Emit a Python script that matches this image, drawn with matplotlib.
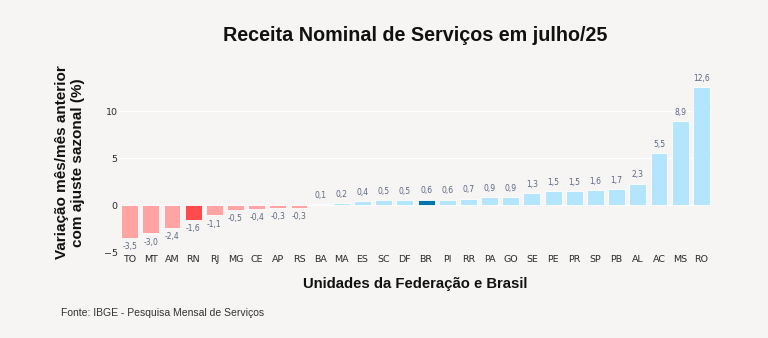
import matplotlib.pyplot as plt

# Variação mês/mês anterior com ajuste sazonal (%), julho/25
ufs = ['TO', 'MT', 'AM', 'RN', 'RJ', 'MG', 'CE', 'AP', 'RS', 'BA', 'MA', 'ES',
       'SC', 'DF', 'BR', 'PI', 'RR', 'PA', 'GO', 'SE', 'PE', 'PR', 'SP', 'PB',
       'AL', 'AC', 'MS', 'RO']
variacao = [-3.5, -3.0, -2.4, -1.6, -1.1, -0.5, -0.4, -0.3, -0.3, 0.1, 0.2, 0.4,
            0.5, 0.5, 0.6, 0.6, 0.7, 0.9, 0.9, 1.3, 1.5, 1.5, 1.6, 1.7,
            2.3, 5.5, 8.9, 12.6]
yticks = [-5, 0, 5, 10]

bg = '#f6f5f3'
cor_neg = '#ffa3a3'
cor_rn = '#ff4b4b'
cor_pos = '#b3e5fc'
cor_br = '#0077a8'

cores = []
for uf, v in zip(ufs, variacao):
    if uf == 'BR':
        cores.append(cor_br)
    elif uf == 'RN':
        cores.append(cor_rn)
    elif v < 0:
        cores.append(cor_neg)
    else:
        cores.append(cor_pos)

fig = plt.figure(figsize=(7.68, 3.38), dpi=100, facecolor=bg)
ax = fig.add_axes([0.155, 0.254, 0.772, 0.509], facecolor=bg)

x = range(len(ufs))
ax.bar(x, variacao, width=0.8, color=cores, edgecolor='white', linewidth=0.6, zorder=3)

# rótulos de valor
for i, v in enumerate(variacao):
    txt = f'{v:.1f}'.replace('.', ',')
    if v >= 0:
        ax.annotate(txt, (i, v), xytext=(0, 3), textcoords='offset points',
                    ha='center', va='bottom', fontsize=5.5, color='#5a6785',
                    family='DejaVu Sans')
    else:
        ax.annotate(txt, (i, v), xytext=(0, -3), textcoords='offset points',
                    ha='center', va='top', fontsize=5.5, color='#5a6785',
                    family='DejaVu Sans')

ax.set_xlim(-0.5, len(ufs) - 0.5)
ax.set_ylim(-5, 13.3)
ax.set_yticks(yticks)
ax.set_yticklabels(['\u22125', '0', '5', '10'])
ax.set_xticks(list(x))
ax.set_xticklabels(ufs)
ax.tick_params(axis='both', length=0, labelsize=6.8, colors='#2a2a2a')
ax.tick_params(axis='x', pad=2)
ax.tick_params(axis='y', pad=1)
for lbl in ax.get_xticklabels() + ax.get_yticklabels():
    lbl.set_family('DejaVu Sans')

ax.grid(axis='y', color='white', linewidth=1, zorder=0)
for s in ax.spines.values():
    s.set_visible(False)

fig.text(0.54, 0.895, 'Receita Nominal de Serviços em julho/25', ha='center', va='center',
         fontsize=14.2, fontweight='bold', family='Liberation Sans', color='#111111')
fig.text(0.091, 0.52, 'Variação mês/mês anterior\ncom ajuste sazonal (%)', ha='center',
         va='center', rotation=90, fontsize=11, fontweight='bold',
         family='Liberation Sans', color='#111111', linespacing=1.15)
fig.text(0.54, 0.16, 'Unidades da Federação e Brasil', ha='center', va='center',
         fontsize=10.7, fontweight='bold', family='Liberation Sans', color='#111111')
fig.text(0.079, 0.074, 'Fonte: IBGE - Pesquisa Mensal de Serviços', ha='left', va='center',
         fontsize=7.5, family='Liberation Sans', color='#333333')

fig.savefig('out.png', dpi=100, facecolor=bg)
